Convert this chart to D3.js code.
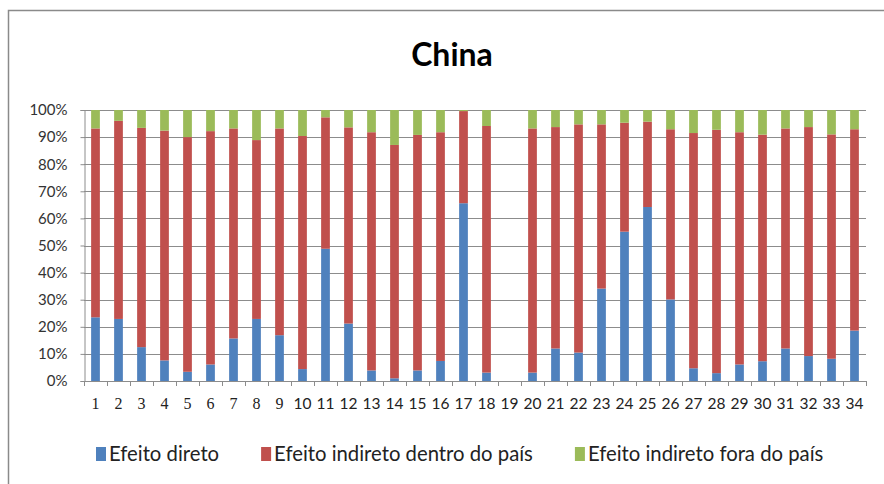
<!DOCTYPE html>
<html>
<head>
<meta charset="utf-8">
<script src="https://cdn.jsdelivr.net/npm/d3@7/dist/d3.min.js"></script>
<style>
  html, body { margin: 0; padding: 0; background: #fff; }
  svg { display: block; }
</style>
</head>
<body>
<svg id="chart" width="884" height="484"></svg>
<script>
// Sectors 1–34 (sector 19 has no data)
const categories = d3.range(1, 35).map(String);

// Share of each effect, in percent
const efeitoDireto = [23.5, 22.9, 12.5, 7.6, 3.4, 6.1, 15.7, 22.9, 16.9, 4.4,
  48.8, 21.2, 3.9, 1.0, 3.9, 7.4, 65.6, 3.1, 0, 3.1,
  12.0, 10.5, 34.1, 55.1, 64.2, 30.1, 4.7, 2.9, 6.1, 7.3,
  12.0, 9.2, 8.2, 18.6];
const efeitoIndiretoDentro = [69.7, 73.1, 80.9, 84.8, 86.6, 86.1, 77.5, 66.0, 76.3, 86.0,
  48.5, 72.4, 87.9, 86.1, 86.9, 84.4, 34.0, 91.0, 0, 90.1,
  81.7, 84.2, 60.6, 40.2, 31.5, 62.8, 86.8, 89.8, 85.7, 83.6,
  81.2, 84.5, 82.8, 74.3];
const efeitoIndiretoFora = [6.8, 4.0, 6.6, 7.6, 10.0, 7.8, 6.8, 11.1, 6.8, 9.6,
  2.7, 6.4, 8.2, 12.9, 9.2, 8.2, 0.4, 5.9, 0, 6.8,
  6.3, 5.3, 5.3, 4.7, 4.3, 7.1, 8.5, 7.3, 8.2, 9.1,
  6.8, 6.3, 9.0, 7.1];

const seriesNames = ["Efeito direto", "Efeito indireto dentro do país", "Efeito indireto fora do país"];
const seriesColors = ["#4F81BD", "#C0504D", "#9BBB59"];
const yTicks = d3.range(0, 101, 10);
const title = "China";

const rows = categories.map((c, i) => ({
  cat: c,
  s0: efeitoDireto[i],
  s1: efeitoIndiretoDentro[i],
  s2: efeitoIndiretoFora[i]
}));

const svg = d3.select("#chart");
const sans = "Lato, 'Open Sans', sans-serif";

// Outer chart frame
svg.append("rect")
  .attr("x", 8.5).attr("y", 10.5)
  .attr("width", 900).attr("height", 500)
  .attr("fill", "#fff")
  .attr("stroke", "#8a8a8a").attr("stroke-width", 1.5);

const plot = { left: 84, right: 866, top: 110, bottom: 381 };

const x = d3.scaleBand()
  .domain(categories)
  .range([plot.left, plot.right])
  .paddingInner(0.62)
  .paddingOuter(0.31);

const y = d3.scaleLinear()
  .domain([0, 100])
  .range([plot.bottom, plot.top]);

// Horizontal gridlines
svg.append("g")
  .selectAll("line")
  .data(yTicks)
  .join("line")
  .attr("x1", plot.left).attr("x2", plot.right)
  .attr("y1", d => Math.round(y(d)) + 0.5)
  .attr("y2", d => Math.round(y(d)) + 0.5)
  .attr("stroke", "#8c8c8c").attr("stroke-width", 1);

// Stacked bars
const stack = d3.stack().keys(["s0", "s1", "s2"]);
const layers = stack(rows);

svg.append("g")
  .selectAll("g")
  .data(layers)
  .join("g")
  .attr("fill", (d, i) => seriesColors[i])
  .selectAll("rect")
  .data(d => d)
  .join("rect")
  .attr("x", d => x(d.data.cat))
  .attr("width", x.bandwidth())
  .attr("y", d => y(d[1]))
  .attr("height", d => Math.max(0, y(d[0]) - y(d[1])));

// Y axis
const yAxis = svg.append("g")
  .attr("transform", `translate(${plot.left + 0.5},0)`)
  .call(d3.axisLeft(y).tickValues(yTicks).tickFormat(d => d + "%").tickSize(4).tickPadding(13));
yAxis.select(".domain").attr("stroke", "#8c8c8c");
yAxis.selectAll(".tick line").attr("stroke", "#8c8c8c");
yAxis.selectAll("text")
  .attr("font-family", sans).attr("font-size", 15).attr("fill", "#333");

// X axis: labels under bars, ticks between categories
const xAxis = svg.append("g")
  .attr("transform", `translate(0,${plot.bottom + 0.5})`)
  .call(d3.axisBottom(x).tickSize(0).tickPadding(16));
xAxis.select(".domain").remove();
xAxis.selectAll("text")
  .attr("font-family", d => d.length === 1 ? "'Liberation Serif', serif" : sans)
  .attr("font-size", d => d.length === 1 ? 16 : 15.5)
  .attr("fill", "#222");

const step = x.step();
const boundaries = categories.map(c => x(c) - (step - x.bandwidth()) / 2)
  .concat([x(categories[categories.length - 1]) + x.bandwidth() + (step - x.bandwidth()) / 2]);

svg.append("line")
  .attr("x1", plot.left).attr("x2", plot.right)
  .attr("y1", plot.bottom + 0.5).attr("y2", plot.bottom + 0.5)
  .attr("stroke", "#8c8c8c");
svg.append("g")
  .selectAll("line")
  .data(boundaries)
  .join("line")
  .attr("x1", d => Math.round(d) + 0.5).attr("x2", d => Math.round(d) + 0.5)
  .attr("y1", plot.bottom).attr("y2", plot.bottom + 5)
  .attr("stroke", "#8c8c8c");

// Title
svg.append("text")
  .attr("x", 452).attr("y", 66)
  .attr("text-anchor", "middle")
  .attr("font-family", sans).attr("font-weight", "bold")
  .attr("font-size", 32).attr("fill", "#000")
  .text(title);

// Legend
const legend = svg.append("g");
let lx = 96;
seriesNames.forEach((name, i) => {
  legend.append("rect")
    .attr("x", lx).attr("y", 447)
    .attr("width", 10).attr("height", 14)
    .attr("fill", seriesColors[i]);
  const t = legend.append("text")
    .attr("x", lx + 13).attr("y", 461)
    .attr("font-family", sans).attr("font-size", 20.3).attr("fill", "#222")
    .text(name);
  lx += 13 + t.node().getComputedTextLength() + 42;
});
</script>
</body>
</html>
